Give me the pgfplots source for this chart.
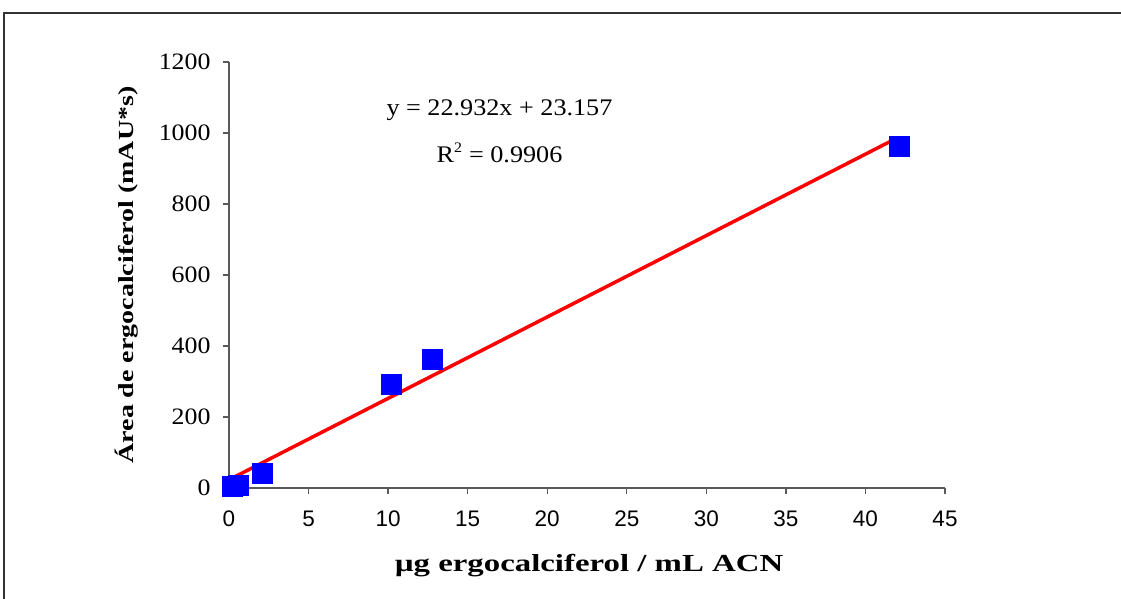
\documentclass[border=0pt]{standalone}
\usepackage{fontspec}
\setmainfont[FakeStretch=1.1]{Liberation Serif}
\newfontfamily\labfont[FakeStretch=1.3]{Liberation Serif}
\newfontfamily\xlabfont[FakeStretch=1.34]{Liberation Serif}
\newfontfamily\sansfont{Liberation Sans}
\usepackage{pgfplots}
\pgfplotsset{compat=1.18}
\begin{document}
\begin{tikzpicture}[x=1pt,y=1pt]
\path[use as bounding box] (0,0) rectangle (1121,599);
\draw[line width=2pt, black!80] (4,-2) -- (4,586) -- (1123,586);
\begin{axis}[
  scale only axis, width=716pt, height=426pt,
  at={(229pt,111pt)}, anchor=south west,
  xmin=0, xmax=45, ymin=0, ymax=1200,
  axis lines=left,
  axis line style={-, gray!70!black, line width=1.3pt},
  xtick={0,5,...,45}, ytick={0,200,...,1200},
  tick align=outside, major tick length=6pt,
  tick style={gray!70!black, line width=1.3pt},
  /pgf/number format/assume math mode=true,
  /pgf/number format/1000 sep={},
  xticklabel style={font=\sansfont\fontsize{22.5pt}{26pt}\selectfont, yshift=-13pt},
  yticklabel style={font=\fontsize{23.5pt}{27pt}\selectfont, xshift=-9pt},
  xlabel={µg ergocalciferol / mL ACN},
  ylabel={Área de ergocalciferol (mAU*s)},
  xlabel style={font=\xlabfont\bfseries\fontsize{24.5pt}{28pt}\selectfont, at={(axis description cs:0.5,0)}, anchor=center, yshift=-78pt, xshift=2pt},
  ylabel style={font=\labfont\bfseries\fontsize{21.5pt}{26pt}\selectfont, at={(axis description cs:0,0.5)}, anchor=center, yshift=102pt},
  clip=false,
]
\addplot[only marks, mark=square*, mark size=10pt, color=blue] coordinates {
(0.2,4) (0.6,7) (2.07,41) (10.2,291) (12.8,362) (42.1,962)};
\addplot[red, line width=3.5pt] coordinates {(0,23.157) (42,986.3)};
\node[font=\fontsize{23.8pt}{27pt}\selectfont] at (axis cs:17,1064) {y = 22.932x + 23.157};
\node[font=\fontsize{23.8pt}{27pt}\selectfont] at (axis cs:17,944) {R$^{\mbox{\fontsize{14.5pt}{15pt}\selectfont 2}}$ = 0.9906};
\end{axis}
\end{tikzpicture}
\end{document}
